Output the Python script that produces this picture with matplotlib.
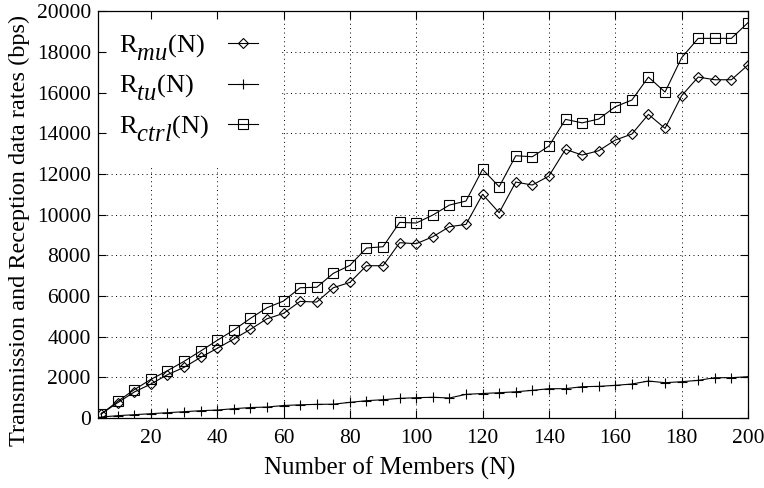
import matplotlib
matplotlib.use("Agg")
import matplotlib.pyplot as plt
import matplotlib._mathtext as _mt

members = list(range(5, 205, 5))
r_mu = [197, 754, 1278, 1672, 2131, 2491, 2983, 3426, 3885, 4360,
        4880, 5146, 5736, 5703, 6407, 6670, 7490, 7490, 8621, 8572,
        8915, 9407, 9522, 11000, 10095, 11604, 11457, 11899, 13212, 12932,
        13144, 13669, 13964, 14932, 14244, 15848, 16767, 16635, 16635, 17357]
r_tu = [50, 115, 164, 213, 262, 311, 360, 393, 459, 515,
        540, 615, 650, 672, 680, 770, 852, 901, 967, 999,
        1020, 985, 1164, 1205, 1245, 1290, 1360, 1442, 1442, 1540,
        1557, 1606, 1672, 1819, 1737, 1786, 1852, 1983, 1983, 2032]
r_ctrl = [197, 820, 1393, 1901, 2327, 2786, 3294, 3819, 4327, 4900,
          5424, 5753, 6407, 6430, 7114, 7507, 8359, 8424, 9621, 9590,
          9982, 10473, 10670, 12229, 11373, 12898, 12849, 13374, 14687, 14515,
          14702, 15308, 15636, 16767, 16030, 17716, 18670, 18670, 18670, 19439]
labels = [r"R$_{mu}$(N)", r"R$_{tu}$(N)", r"R$_{ctrl}$(N)"]
x_ticks = list(range(20, 201, 20))
y_ticks = list(range(0, 20001, 2000))

# gnuplot-style subscripts: nearly full size and clearly lowered
_mt.SHRINK_FACTOR = 0.93
_mt.FontConstantsBase.sub1 = 0.7

plt.rcParams["font.family"] = ["Liberation Serif", "DejaVu Serif"]
plt.rcParams["mathtext.fontset"] = "custom"
plt.rcParams["mathtext.rm"] = "Liberation Serif"
plt.rcParams["mathtext.it"] = "Liberation Serif:italic"

fig = plt.figure(figsize=(7.64, 4.88), dpi=100)
ax = fig.add_axes([0.128, 0.1434, 0.851, 0.8334])

lw = 0.8
ax.plot(members, r_mu, color="black", lw=lw, marker="D", ms=4.6, mfc="none",
        mec="black", mew=0.8, label=labels[0], zorder=2)
ax.plot(members, r_tu, color="black", lw=lw, marker="+", ms=7, mew=0.8,
        label=labels[1], zorder=2)
ax.plot(members, r_ctrl, color="black", lw=lw, marker="s", ms=7.5, mfc="none",
        mec="black", mew=0.8, label=labels[2], zorder=2)

ax.set_xlim(4, 200)
ax.set_ylim(0, 20000)
ax.set_xticks(x_ticks)
ax.set_yticks(y_ticks)
ax.tick_params(direction="in", length=6, width=0.8, top=True, right=True,
               labelsize=15.5)
ax.tick_params(axis="x", pad=8)
ax.tick_params(axis="y", pad=5)

# dotted grid drawn beneath the (opaque) key box
grid_style = dict(color="black", linestyle=(0, (1, 3.5)), linewidth=0.7, zorder=0.9)
for xv in x_ticks:
    ax.axvline(xv, **grid_style)
for yv in y_ticks:
    ax.axhline(yv, **grid_style)
for s in ax.spines.values():
    s.set_linewidth(0.9)

ax.set_xlabel("Number of Members (N)", fontsize=18)
ax.set_ylabel("Transmission and Reception data rates (bps)", fontsize=17.5)
ax.xaxis.set_label_coords(0.449, -0.096)
ax.yaxis.set_label_coords(-0.104, 0.462)

fs = 19
leg = ax.legend(loc="upper left", markerfirst=False, fontsize=fs,
                frameon=True, framealpha=1, edgecolor="none", fancybox=False,
                handlelength=1.14, handletextpad=0.71, labelspacing=0.38,
                borderpad=0.8, borderaxespad=0.0)
leg.get_frame().set_facecolor("white")
leg.set_zorder(1.2)

# left-align legend texts while keeping the sample lines in one column
fig.canvas.draw()
renderer = fig.canvas.get_renderer()
for col in leg._legend_handle_box.get_children():
    col.align = "left"
    rows = col.get_children()
    widths = [r.get_children()[0].get_bbox(renderer).width for r in rows]
    maxw = max(widths)
    for r, w in zip(rows, widths):
        r.sep = leg.handletextpad * fs + (maxw - w) * 72.0 / fig.dpi

fig.savefig("out.png", dpi=100)
